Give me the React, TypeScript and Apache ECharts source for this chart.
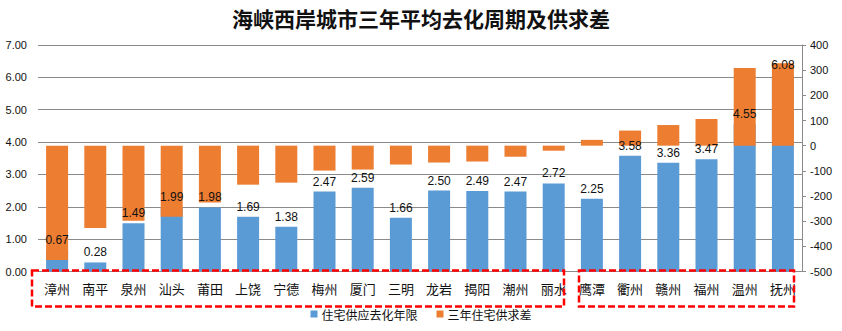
import React, { useEffect, useRef } from "react";
import * as echarts from "echarts";

const title = "海峡西岸城市三年平均去化周期及供求差";
const cities = ["漳州", "南平", "泉州", "汕头", "莆田", "上饶", "宁德", "梅州", "厦门", "三明", "龙岩", "揭阳", "潮州", "丽水", "鹰潭", "衢州", "赣州", "福州", "温州", "抚州"];
const supplyYears = [0.67, 0.28, 1.49, 1.99, 1.98, 1.69, 1.38, 2.47, 2.59, 1.66, 2.5, 2.49, 2.47, 2.72, 2.25, 3.58, 3.36, 3.47, 4.55, 6.08];
const supplyGap = [-454, -327, -298, -282, -226, -155, -147, -99, -95, -75, -67, -63, -44, -20, 23, 60, 82, 106, 309, 327];
const seriesNames = ["住宅供应去化年限", "三年住宅供求差"];
const leftTicks = { min: 0, max: 7, interval: 1 };
const rightTicks = { min: -500, max: 400, interval: 100 };

export default function App() {
  const ref = useRef<HTMLDivElement>(null);
  useEffect(() => {
    if (!ref.current) return;
    const chart = echarts.init(ref.current, null, { renderer: "svg" });
    const font = "'Liberation Sans', Arial, sans-serif";
    const cjk = "'Noto Sans CJK SC', 'Liberation Sans', sans-serif";
    const grey = "#8a8a8a";
    chart.setOption({
      animation: false,
      backgroundColor: "#ffffff",
      title: {
        text: title,
        left: "center",
        top: 2,
        textStyle: { fontFamily: cjk, fontSize: 21, fontWeight: "bold", color: "#111" },
      },
      legend: {
        data: seriesNames,
        bottom: 6,
        left: "center",
        icon: "rect",
        itemWidth: 7,
        itemHeight: 7,
        itemGap: 19,
        textStyle: { fontFamily: cjk, fontSize: 12, color: "#111", padding: [0, 0, 0, -1] },
      },
      grid: { left: 38, right: 40, top: 45, bottom: 59.5 },
      xAxis: {
        type: "category",
        data: cities,
        axisTick: { show: false },
        axisLine: { lineStyle: { color: grey } },
        axisLabel: { fontFamily: cjk, fontSize: 13, color: "#111", margin: 10, interval: 0 },
      },
      yAxis: [
        {
          type: "value",
          ...leftTicks,
          axisLine: { show: false },
          axisTick: { show: false },
          splitLine: { lineStyle: { color: grey } },
          axisLabel: { fontFamily: font, fontSize: 11, color: "#111", margin: 11, formatter: (v: number) => v.toFixed(2) },
        },
        {
          type: "value",
          position: "right",
          ...rightTicks,
          axisLine: { show: true, lineStyle: { color: grey } },
          axisTick: { show: true, length: 4, lineStyle: { color: grey } },
          splitLine: { show: false },
          axisLabel: { fontFamily: font, fontSize: 11, color: "#111", margin: 8 },
        },
      ],
      series: [
        {
          name: seriesNames[0],
          type: "bar",
          yAxisIndex: 0,
          data: supplyYears,
          barWidth: 22,
          barGap: "-100%",
          itemStyle: { color: "#5B9BD5" },
          z: 2,
        },
        {
          name: seriesNames[1],
          type: "bar",
          yAxisIndex: 1,
          data: supplyGap,
          barWidth: 22,
          barGap: "-100%",
          itemStyle: { color: "#ED7D31" },
          z: 3,
        },
        {
          name: "labels",
          type: "bar",
          yAxisIndex: 0,
          data: supplyYears,
          barWidth: 22,
          barGap: "-100%",
          itemStyle: { color: "rgba(0,0,0,0)" },
          silent: true,
          z: 10,
          label: {
            show: true,
            position: "top",
            distance: 4,
            fontFamily: font,
            fontSize: 12,
            color: "#111",
            formatter: (p: any) => Number(p.value).toFixed(2),
          },
        },
      ],
      graphic: [
        {
          type: "rect",
          shape: { x: 32, y: 270.5, width: 532, height: 36 },
          style: { fill: "none", stroke: "#FF0000", lineWidth: 2.5, lineDash: [7, 3] },
          z: 20,
        },
        {
          type: "rect",
          shape: { x: 579, y: 270.5, width: 215, height: 36 },
          style: { fill: "none", stroke: "#FF0000", lineWidth: 2.5, lineDash: [7, 3] },
          z: 20,
        },
      ],
    });
    return () => chart.dispose();
  }, []);
  return <div ref={ref} style={{ position: "fixed", left: 0, top: 0, width: 842, height: 331 }} />;
}
